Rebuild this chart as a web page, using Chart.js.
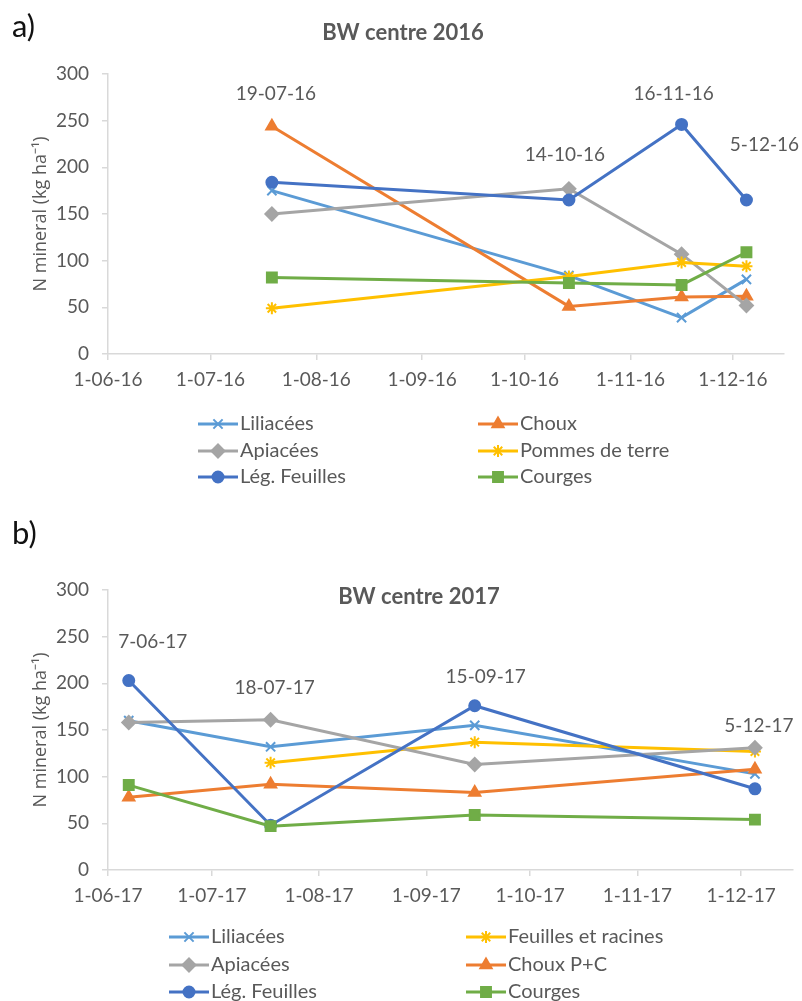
<!DOCTYPE html>
<html>
<head>
<meta charset="utf-8">
<script src="https://cdn.jsdelivr.net/npm/chart.js@4.4.0/dist/chart.umd.min.js"></script>
<style>
  html, body { margin: 0; padding: 0; background: #fff; }
  #page { position: relative; width: 802px; height: 1001px; overflow: hidden; }
  .panel { position: absolute; left: 0; width: 802px; }
  .tag { position: absolute; left: 12px; font-family: Lato, sans-serif; font-size: 31px; line-height: 36px; color: #111; }
</style>
</head>
<body>
<div id="page">
  <div class="panel" style="top:0;height:500px"><canvas id="chartA" width="802" height="500"></canvas></div>
  <div class="panel" style="top:500px;height:501px"><canvas id="chartB" width="802" height="501"></canvas></div>
  <div class="tag" style="top:7px;">a)</div>
  <div class="tag" style="top:514px;">b)</div>
</div>
<script>
        // --- chart a) 2016 ---
        const monthTicksA = ['2016-06-01', '2016-07-01', '2016-08-01', '2016-09-01', '2016-10-01', '2016-11-01', '2016-12-01'];
        const tickLabelsA = ['1-06-16', '1-07-16', '1-08-16', '1-09-16', '1-10-16', '1-11-16', '1-12-16'];
        const samplingDatesA = ['2016-07-19', '2016-10-14', '2016-11-16', '2016-12-05'];
        const samplingLabelsA = ['19-07-16', '14-10-16', '16-11-16', '5-12-16'];
        const labelLevelsA = [279, 213, 279, 224];
        const liliaceesA = [175, 84, 39, 80];
        const chouxA = [244, 51, 61, 62];
        const apiaceesA = [150, 177, 107, 52];
        const pommesA = [49, 83, 98, 94];
        const legFeuillesA = [184, 165, 246, 165];
        const courgesA = [82, 76, 74, 109];

        // --- chart b) 2017 ---
        const monthTicksB = ['2017-06-01', '2017-07-01', '2017-08-01', '2017-09-01', '2017-10-01', '2017-11-01', '2017-12-01'];
        const tickLabelsB = ['1-06-17', '1-07-17', '1-08-17', '1-09-17', '1-10-17', '1-11-17', '1-12-17'];
        const samplingDatesB = ['2017-06-07', '2017-07-18', '2017-09-15', '2017-12-05'];
        const samplingLabelsB = ['7-06-17', '18-07-17', '15-09-17', '5-12-17'];
        const labelLevelsB = [244, 195, 207, 154];
        const liliaceesB = [160, 132, 155, 103];
        const feuillesRacinesB = [null, 115, 137, 127];
        const apiaceesB = [158, 161, 113, 131];
        const chouxB = [78, 92, 83, 108];
        const legFeuillesB = [203, 48, 176, 87];
        const courgesB = [91, 47, 59, 54];

        const yTicks = [0, 50, 100, 150, 200, 250, 300];
        const yTitle = 'N mineral (kg ha⁻¹)';

        const textColor = '#595959';
        const axisColor = '#d9d9d9';

        // days since epoch, used as linear x value
        const day = s => Date.UTC(+s.slice(0, 4), +s.slice(5, 7) - 1, +s.slice(8, 10)) / 864e5;

        function series(label, values, dates, color, style, radius, idx) {
            return {
                label: label,
                data: values.map((v, i) => ({ x: day(dates[i]), y: v })),
                borderColor: color,
                backgroundColor: color,
                pointBackgroundColor: color,
                pointBorderColor: color,
                pointStyle: style,
                pointRadius: radius,
                pointHoverRadius: radius,
                pointBorderWidth: 2,
                borderWidth: 3,
                tension: 0,
                order: -idx
            };
        }

        // title, sampling date labels and 2-column legend
        const overlayPlugin = {
            id: 'overlay',
            afterDatasetsDraw(chart, args, opts) {
                const ctx = chart.ctx;
                const xs = chart.scales.x, ys = chart.scales.y;
                ctx.save();
                ctx.fillStyle = textColor;
                ctx.textAlign = 'center';
                ctx.textBaseline = 'middle';
                ctx.font = 'bold 22px Lato';
                ctx.fillText(opts.title, opts.titleX, opts.titleY);

                ctx.font = '19px Lato';
                opts.dates.forEach((d, i) => {
                    ctx.fillText(opts.labels[i], xs.getPixelForValue(day(d)) + opts.nudge[i], ys.getPixelForValue(opts.levels[i]));
                });

                ctx.textAlign = 'left';
                ctx.font = '20px Lato';
                chart.data.datasets.forEach((ds, i) => {
                    const x0 = opts.legendCols[i % 2];
                    const y = opts.legendRows[Math.floor(i / 2)];
                    ctx.strokeStyle = ds.borderColor;
                    ctx.fillStyle = ds.borderColor;
                    ctx.lineWidth = 3;
                    ctx.beginPath();
                    ctx.moveTo(x0, y);
                    ctx.lineTo(x0 + 40, y);
                    ctx.stroke();
                    ctx.lineWidth = 2;
                    Chart.helpers.drawPoint(ctx, { pointStyle: ds.pointStyle, radius: ds.pointRadius, borderWidth: 2, rotation: 0 }, x0 + 20, y);
                    ctx.fillStyle = textColor;
                    ctx.fillText(ds.label, x0 + 42, y);
                });
                ctx.restore();
            }
        };

        function makeOptions(monthTicks, tickLabels, xMax, padding, xHeight, overlay) {
            return {
                responsive: false,
                animation: false,
                layout: { padding: padding },
                plugins: {
                    legend: { display: false },
                    tooltip: { enabled: false },
                    overlay: overlay
                },
                scales: {
                    x: {
                        type: 'linear',
                        min: day(monthTicks[0]),
                        max: day(xMax),
                        afterBuildTicks: s => { s.ticks = monthTicks.map(d => ({ value: day(d) })); },
                        afterFit: s => { s.height = xHeight; },
                        ticks: {
                            callback: (v, i) => tickLabels[i],
                            color: textColor,
                            font: { size: 19 },
                            padding: 8,
                            maxRotation: 0,
                            autoSkip: false
                        },
                        grid: { drawOnChartArea: false, tickLength: 6, color: axisColor, lineWidth: 1.5 },
                        border: { color: axisColor, width: 1.5 }
                    },
                    y: {
                        min: yTicks[0],
                        max: yTicks[yTicks.length - 1],
                        afterBuildTicks: s => { s.ticks = yTicks.map(v => ({ value: v })); },
                        afterFit: s => { s.width = 108; },
                        ticks: { color: textColor, font: { size: 19 }, padding: 13 },
                        grid: { drawOnChartArea: false, tickLength: 6, color: axisColor, lineWidth: 1.5 },
                        border: { color: axisColor, width: 1.5 },
                        title: {
                            display: true,
                            text: yTitle,
                            color: textColor,
                            font: { family: 'Open Sans', size: 18 },
                            padding: { top: 30, bottom: 0 }
                        }
                    }
                }
            };
        }

        Chart.defaults.font.family = 'Lato';

        const datasetsA = [
            series('Liliacées', liliaceesA, samplingDatesA, '#5B9BD5', 'crossRot', 6.5, 0),
            series('Choux', chouxA, samplingDatesA, '#ED7D31', 'triangle', 6.5, 1),
            series('Apiacées', apiaceesA, samplingDatesA, '#A5A5A5', 'rectRot', 6.5, 2),
            series('Pommes de terre', pommesA, samplingDatesA, '#FFC000', 'star', 6, 3),
            series('Lég. Feuilles', legFeuillesA, samplingDatesA, '#4472C4', 'circle', 5.5, 4),
            series('Courges', courgesA, samplingDatesA, '#70AD47', 'rect', 7, 5)
        ];

        const datasetsB = [
            series('Liliacées', liliaceesB, samplingDatesB, '#5B9BD5', 'crossRot', 6.5, 0),
            series('Feuilles et racines', feuillesRacinesB, samplingDatesB, '#FFC000', 'star', 6, 1),
            series('Apiacées', apiaceesB, samplingDatesB, '#A5A5A5', 'rectRot', 6.5, 2),
            series('Choux P+C', chouxB, samplingDatesB, '#ED7D31', 'triangle', 6.5, 3),
            series('Lég. Feuilles', legFeuillesB, samplingDatesB, '#4472C4', 'circle', 5.5, 4),
            series('Courges', courgesB, samplingDatesB, '#70AD47', 'rect', 7, 5)
        ];

        const chartA = new Chart(document.getElementById('chartA'), {
            type: 'line',
            data: { datasets: datasetsA },
            options: makeOptions(monthTicksA, tickLabelsA, '2016-12-16', { top: 74, right: 18, bottom: 0, left: 0 }, 146, {
                title: 'BW centre 2016', titleX: 403, titleY: 33,
                dates: samplingDatesA, labels: samplingLabelsA, levels: labelLevelsA, nudge: [4, -4, -8, 18],
                legendCols: [198, 478], legendRows: [424, 451, 477]
            }),
            plugins: [overlayPlugin]
        });

        const chartB = new Chart(document.getElementById('chartB'), {
            type: 'line',
            data: { datasets: datasetsB },
            options: makeOptions(monthTicksB, tickLabelsB, '2017-12-16', { top: 90, right: 2, bottom: 0, left: 0 }, 131, {
                title: 'BW centre 2017', titleX: 419, titleY: 97,
                dates: samplingDatesB, labels: samplingLabelsB, levels: labelLevelsB, nudge: [24, 4, 11, 4],
                legendCols: [169, 466], legendRows: [437, 465, 492]
            }),
            plugins: [overlayPlugin]
        });
</script>
</body>
</html>
